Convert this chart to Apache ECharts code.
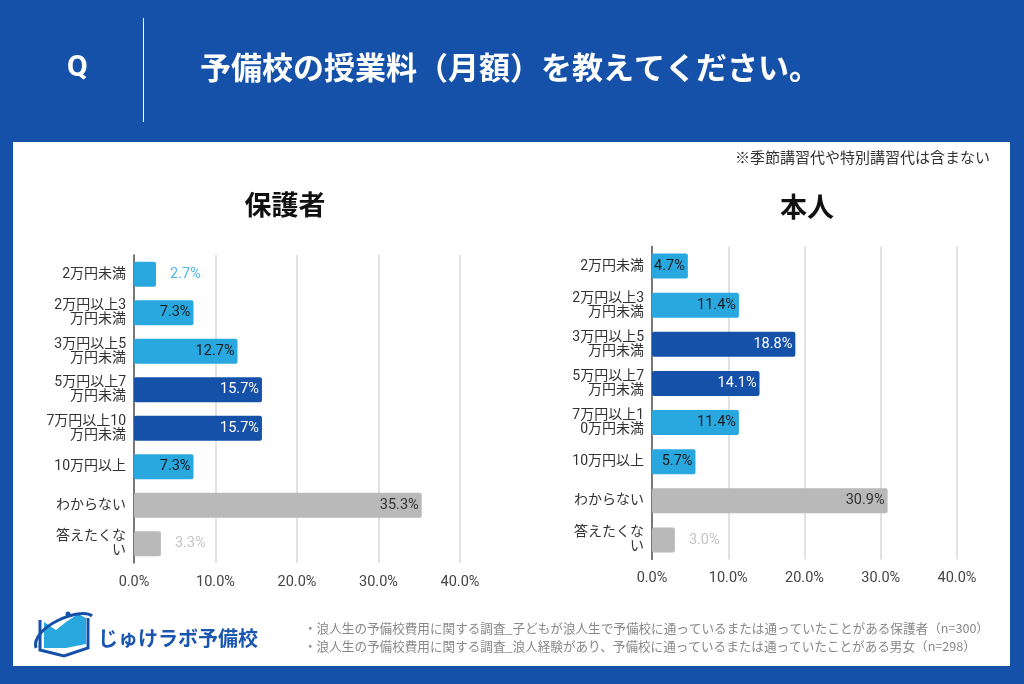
<!DOCTYPE html>
<html><head><meta charset="utf-8">
<script src="https://cdn.jsdelivr.net/npm/echarts@6/dist/echarts.min.js"></script>
<style>html,body{margin:0;padding:0;background:#1651a9;}#c{width:1024px;height:684px;}</style>
</head><body><div id="c"></div>
<script>
const titleText = '予備校の授業料（月額）を教えてください。';
const noteText = '※季節講習代や特別講習代は含まない';
const leftTitle = '保護者';
const rightTitle = '本人';
const leftCategories = ['2万円未満','2万円以上3\n万円未満','3万円以上5\n万円未満','5万円以上7\n万円未満','7万円以上10\n万円未満','10万円以上','わからない','答えたくな\nい'];
const rightCategories = ['2万円未満','2万円以上3\n万円未満','3万円以上5\n万円未満','5万円以上7\n万円未満','7万円以上1\n0万円未満','10万円以上','わからない','答えたくな\nい'];
const leftValues = [2.7, 7.3, 12.7, 15.7, 15.7, 7.3, 35.3, 3.3];
const rightValues = [4.7, 11.4, 18.8, 14.1, 11.4, 5.7, 30.9, 3.0];
// colour class per bar: L = light blue, D = dark blue, G = grey
const leftKinds = ['L','L','L','D','D','L','G','G'];
const rightKinds = ['L','L','D','D','L','L','G','G'];
const footNotes = ['・浪人生の予備校費用に関する調査_子どもが浪人生で予備校に通っているまたは通っていたことがある保護者（n=300）',
                   '・浪人生の予備校費用に関する調査_浪人経験があり、予備校に通っているまたは通っていたことがある男女（n=298）'];
const brandText = 'じゅけラボ予備校';

const FONT = 'Roboto, "Noto Sans CJK JP", sans-serif';
const COL = {L:'#29a8e0', D:'#1651a9', G:'#b9b9b9'};
const LABEL_IN = {L:'#1a1a1a', D:'#ffffff', G:'#333333'};
const LABEL_OUT = {L:'#4db8f0', D:'#1651a9', G:'#c4c4c4'};

function buildData(values, kinds){
  return values.map((v,i)=>{
    const k = kinds[i];
    const outside = v < 4;
    return {
      value: v,
      itemStyle: {color: COL[k], borderRadius: 2},
      label: outside ? {position:'right', distance:14, color: LABEL_OUT[k]}
                     : {position:'insideRight', distance:3, color: LABEL_IN[k]}
    };
  });
}

const chart = echarts.init(document.getElementById('c'), null, {renderer:'canvas'});

function xAxis(gi){
  return {gridIndex: gi, type:'value', min:0, max:40, interval:10,
    axisLine:{show:false}, axisTick:{show:false},
    splitLine:{lineStyle:{color:'#d9d9d9', width:1.5}},
    axisLabel:{formatter: v => v.toFixed(1)+'%', color:'#444', fontSize:14.5, fontFamily:FONT, margin:12}};
}
function yAxis(gi, cats){
  return {gridIndex: gi, type:'category', data: cats, inverse:true,
    axisLine:{lineStyle:{color:'#555', width:1.5}}, axisTick:{show:false},
    axisLabel:{color:'#333', fontSize:14, fontFamily:FONT, lineHeight:14, margin:8, align:'right'}};
}

const option = {
  backgroundColor:'#1651a9',
  animation:false,
  graphic:[
    {type:'rect', shape:{x:13, y:142, width:997, height:524}, style:{fill:'#ffffff'}},
    {type:'text', left:67, top:53, style:{text:'Q', fill:'#fff', font:'bold 30px Roboto, sans-serif'}},
    {type:'line', shape:{x1:143.5, y1:18, x2:143.5, y2:122}, style:{stroke:'#ffffff', lineWidth:1}},
    {type:'text', left:200, top:52, style:{text:titleText, fill:'#fff', font:'bold 31px "Noto Sans CJK JP", sans-serif'}},
    {type:'text', right:34, top:150, style:{text:noteText, fill:'#333', font:'15px "Noto Sans CJK JP", sans-serif'}},
    {type:'text', x:285, y:205, style:{text:leftTitle, fill:'#111', font:'bold 27px "Noto Sans CJK JP", sans-serif', align:'center', verticalAlign:'middle'}},
    {type:'text', x:807, y:207, style:{text:rightTitle, fill:'#111', font:'bold 27px "Noto Sans CJK JP", sans-serif', align:'center', verticalAlign:'middle'}},
    // logo icon
    {type:'polygon', shape:{points:[[44,622],[56,630],[66,622],[66,648],[44,648]]}, style:{fill:'#29a8e0'}},
    {type:'polygon', shape:{points:[[66,622],[78,614],[86,618],[86,644],[66,648]]}, style:{fill:'#29a8e0'}},
    {type:'polyline', shape:{points:[[40,620],[40,650],[64,656],[88,648],[88,618]]}, style:{stroke:'#1651a9', lineWidth:3, fill:null}},
    {type:'bezierCurve', shape:{x1:36,y1:648,cpx1:30,cpy1:628,cpx2:80,cpy2:606,x2:92,y2:616}, style:{stroke:'#1651a9', lineWidth:3, fill:null}},
    {type:'circle', shape:{cx:68, cy:614, r:2.5}, style:{fill:'#1651a9'}},
    {type:'text', left:98, top:628, style:{text:brandText, fill:'#1a56b0', font:'bold 20px "Noto Sans CJK JP", sans-serif'}},
    {type:'text', left:304, top:622, style:{text:footNotes[0], fill:'#888', font:'12.6px "Noto Sans CJK JP", sans-serif'}},
    {type:'text', left:304, top:640, style:{text:footNotes[1], fill:'#888', font:'12.6px "Noto Sans CJK JP", sans-serif'}}
  ],
  grid:[
    {left:134, width:326, top:255, height:308},
    {left:652, width:305, top:246.5, height:313}
  ],
  xAxis:[xAxis(0), xAxis(1)],
  yAxis:[yAxis(0, leftCategories), yAxis(1, rightCategories)],
  series:[
    {type:'bar', xAxisIndex:0, yAxisIndex:0, barWidth:25, data: buildData(leftValues, leftKinds),
     label:{show:true, fontSize:14.5, fontFamily:FONT, formatter: p => p.value.toFixed(1)+'%'}},
    {type:'bar', xAxisIndex:1, yAxisIndex:1, barWidth:25, data: buildData(rightValues, rightKinds),
     label:{show:true, fontSize:14.5, fontFamily:FONT, formatter: p => p.value.toFixed(1)+'%'}}
  ]
};
chart.setOption(option);
</script></body></html>
